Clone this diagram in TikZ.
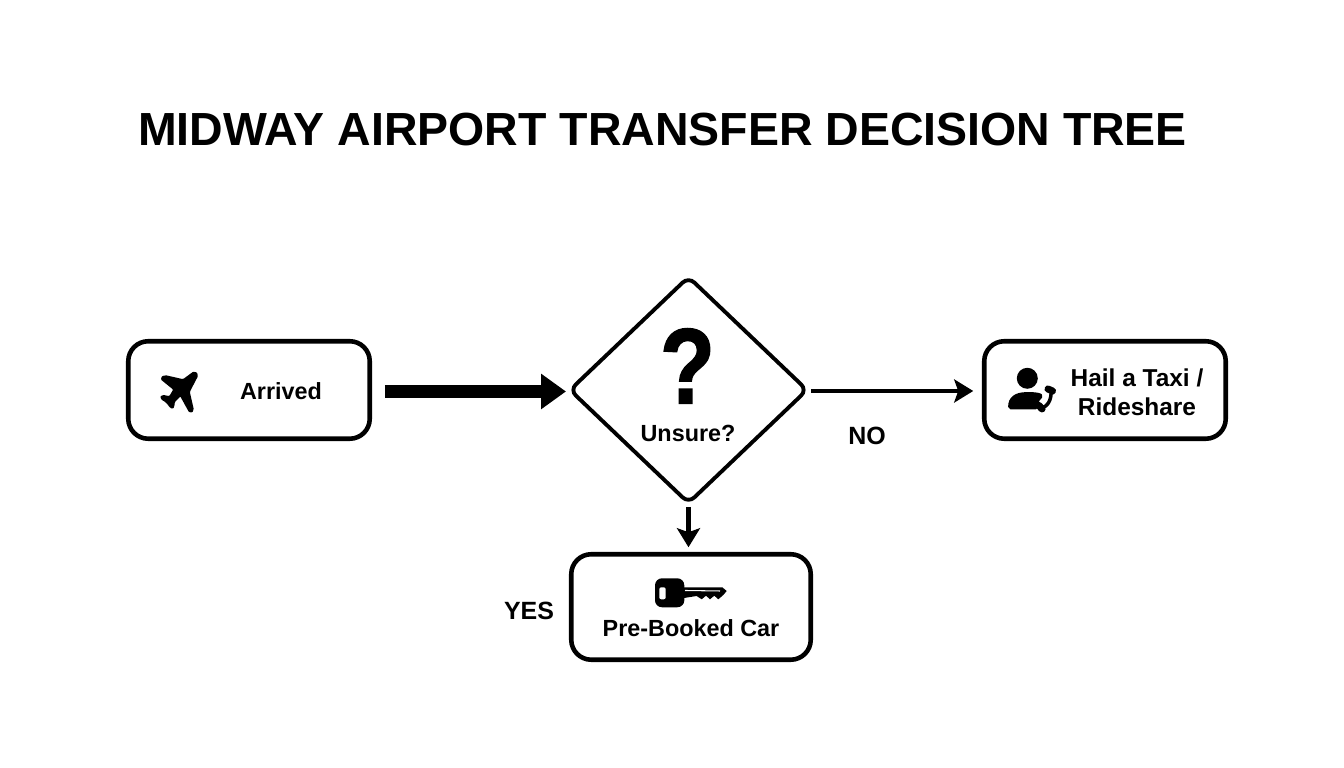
\documentclass[tikz,border=0pt]{standalone}
\usepackage{fontspec}
\setmainfont{Liberation Sans}
\newfontfamily\markfont[BoldFeatures={FakeBold=1.5}]{Liberation Sans}
\usetikzlibrary{arrows.meta,shapes.geometric}
\tikzset{
	box/.style={draw, rectangle, rounded corners=0.2cm, line width=1.3pt, minimum width=2.415cm, minimum height=0.975cm, inner sep=0pt, outer sep=0pt},
	decision/.style={draw, diamond, rounded corners=0.08cm, line width=1.1pt, minimum width=2.37cm, minimum height=2.26cm, inner sep=0pt, outer sep=0pt},
	boxtext/.style={font=\fontsize{6.65pt}{8.25pt}\selectfont\bfseries, align=center, inner sep=0pt},
	answer/.style={font=\fontsize{7.1pt}{8.5pt}\selectfont\bfseries, inner sep=0pt},
	icon/.style={fill, draw, line width=0.5pt, line join=round},
}
\begin{document}
\begin{tikzpicture}
			\useasboundingbox (0, 0) rectangle (13.44, 7.68);
			\node[font=\fontsize{13.22pt}{16pt}\selectfont\bfseries, inner sep=0pt] (title)at(6.625, 6.38) {MIDWAY AIRPORT TRANSFER DECISION TREE};
			\node[box] (arrived)at(2.49, 3.78) {};
			\node[decision] (unsure)at(6.885, 3.78) {};
			\node[box] (taxi)at(11.05, 3.78) {};
			\node[box, minimum width=2.395cm, minimum height=1.055cm] (car)at(6.91, 1.61) {};
			\node[boxtext] (arrivedtext)at(2.81, 3.77) {Arrived};
			\node[font=\fontsize{30.5pt}{32pt}\selectfont\markfont\bfseries, inner sep=0pt, xscale=0.84] (mark)at(6.875, 4.02) {?};
			\node[boxtext] (unsuretext)at(6.88, 3.35) {Unsure?};
			\node[boxtext, font=\fontsize{6.95pt}{8.25pt}\selectfont\bfseries] (taxitext)at(11.37, 3.76) {Hail a Taxi /\\Rideshare};
			\node[boxtext] (cartext)at(6.91, 1.40) {Pre-Booked Car};
			\node[answer] (no)at(8.67, 3.32) {NO};
			\node[answer] (yes)at(5.29, 1.57) {YES};
			\draw[line width=3.6pt, shorten <=0.15cm, shorten >=0.04cm, -{Triangle[length=0.25cm, width=0.34cm]}] ([yshift=-0.015cm]arrived.east) -- ([yshift=-0.015cm]unsure.west);
			\draw[line width=1.1pt, shorten <=0.04cm, shorten >=0.11cm, -{Stealth[length=0.19cm, width=0.23cm, inset=0.04cm]}] ([yshift=-0.01cm]unsure.east) -- ([yshift=-0.01cm]taxi.west);
			\draw[line width=1.3pt, shorten <=0.04cm, shorten >=0.07cm, -{Stealth[length=0.19cm, width=0.23cm, inset=0.04cm]}] (unsure.south) -- (unsure.south |- car.north);
			% plane
			\path[icon, line width=0.8pt, rounded corners=0.4pt] (1.945, 3.955) -- (1.833, 3.873) -- (1.65, 3.915) -- (1.615, 3.897) -- (1.75, 3.787) -- (1.70, 3.703) -- (1.625, 3.718) -- (1.615, 3.70) -- (1.67, 3.665) -- (1.717, 3.605) -- (1.73, 3.615) -- (1.733, 3.663) -- (1.807, 3.737) -- (1.905, 3.56) -- (1.925, 3.58) -- (1.883, 3.763) -- (1.97, 3.93) -- cycle;
			% person and phone
			\fill (10.273, 3.897) circle (0.105);
			\path[icon, rounded corners=0.5pt] (10.09, 3.595) .. controls (10.09, 3.70) and (10.15, 3.75) .. (10.283, 3.75) .. controls (10.34, 3.75) and (10.39, 3.745) .. (10.425, 3.723) -- (10.375, 3.663) -- (10.375, 3.595) -- cycle;
			\draw[line width=1pt] (10.51, 3.78) .. controls (10.52, 3.68) and (10.47, 3.60) .. (10.40, 3.60);
			\draw[line width=2pt, line cap=round] (10.48, 3.79) -- (10.525, 3.77);
			\draw[line width=2pt, line cap=round] (10.39, 3.625) -- (10.42, 3.59);
			% key
			\fill[rounded corners=0.07cm] (6.55, 1.897) rectangle (6.843, 1.607);
			\fill (6.84, 1.807) -- (7.223, 1.807) -- (7.267, 1.77) -- (7.233, 1.73) -- (7.183, 1.687) -- (7.143, 1.723) -- (7.10, 1.687) -- (7.06, 1.723) -- (7.017, 1.687) -- (6.967, 1.72) -- (6.84, 1.70) -- cycle;
			\fill[white, rounded corners=0.02cm] (6.593, 1.807) rectangle (6.657, 1.687);
			\draw[white, line width=0.3pt] (6.85, 1.775) -- (7.20, 1.77);
\end{tikzpicture}
\end{document}
